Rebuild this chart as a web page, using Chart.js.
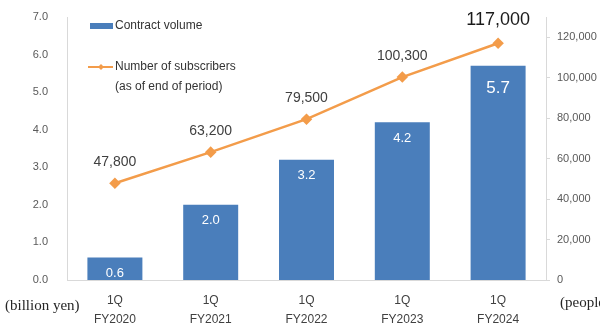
<!DOCTYPE html>
<html>
<head>
<meta charset="utf-8">
<script src="https://cdn.jsdelivr.net/npm/chart.js@4"></script>
<style>
  html, body { margin: 0; padding: 0; background: #fff; }
  #wrap { width: 600px; height: 326px; position: relative; }
</style>
</head>
<body>
<div id="wrap"><canvas id="chart"></canvas></div>
<script>
// data
const periods = [['1Q', 'FY2020'], ['1Q', 'FY2021'], ['1Q', 'FY2022'], ['1Q', 'FY2023'], ['1Q', 'FY2024']];
const contractVolume = [0.6, 2.0, 3.2, 4.2, 5.7];
const subscribers = [47800, 63200, 79500, 100300, 117000];
const leftTicks = [0, 1, 2, 3, 4, 5, 6, 7];
const rightTicks = [0, 20000, 40000, 60000, 80000, 100000, 120000];

const BLUE = '#4a7ebb';
const ORANGE = '#f39c4a';
const FONT = '"Liberation Sans", Arial, sans-serif';

// value labels, legend and unit captions
const decorPlugin = {
  id: 'decor',
  afterDatasetsDraw(chart) {
    const ctx = chart.ctx;
    ctx.save();
    ctx.textAlign = 'center';
    ctx.textBaseline = 'middle';

    // bar labels
    const barMeta = chart.getDatasetMeta(0);
    barMeta.data.forEach((bar, i) => {
      const last = i === contractVolume.length - 1;
      ctx.fillStyle = '#ffffff';
      ctx.font = (last ? '17px ' : '13px ') + FONT;
      ctx.fillText(contractVolume[i].toFixed(1), bar.x, bar.y + (last ? 22 : 16));
    });

    // line labels
    const lineMeta = chart.getDatasetMeta(1);
    lineMeta.data.forEach((pt, i) => {
      const last = i === subscribers.length - 1;
      ctx.fillStyle = last ? '#1a1a1a' : '#404040';
      ctx.font = (last ? '18px ' : '14px ') + FONT;
      ctx.fillText(subscribers[i].toLocaleString('en-US'), pt.x, pt.y - (last ? 23 : 21));
    });

    // legend
    ctx.textAlign = 'left';
    ctx.font = '12px ' + FONT;
    ctx.fillStyle = BLUE;
    ctx.fillRect(90, 23, 23, 6);
    ctx.fillStyle = '#333';
    ctx.fillText('Contract volume', 115, 26);

    ctx.strokeStyle = ORANGE;
    ctx.lineWidth = 2;
    ctx.beginPath();
    ctx.moveTo(88, 67);
    ctx.lineTo(113, 67);
    ctx.stroke();
    ctx.fillStyle = ORANGE;
    ctx.beginPath();
    ctx.moveTo(101, 64);
    ctx.lineTo(104, 67);
    ctx.lineTo(101, 70);
    ctx.lineTo(98, 67);
    ctx.closePath();
    ctx.fill();
    ctx.fillStyle = '#333';
    ctx.fillText('Number of subscribers', 115, 67);
    ctx.fillText('(as of end of period)', 115, 87);

    // unit captions
    ctx.font = '15px "Liberation Serif", "Times New Roman", serif';
    ctx.fillStyle = '#262626';
    ctx.fillText('(billion yen)', 5, 306);
    ctx.fillText('(people)', 560, 303);
    ctx.restore();
  }
};

new Chart(document.getElementById('chart'), {
  data: {
    labels: periods,
    datasets: [
      {
        type: 'bar',
        label: 'Contract volume',
        data: contractVolume,
        backgroundColor: BLUE,
        yAxisID: 'y',
        categoryPercentage: 1,
        barPercentage: 0.574,
        order: 2
      },
      {
        type: 'line',
        label: 'Number of subscribers',
        data: subscribers,
        borderColor: ORANGE,
        backgroundColor: ORANGE,
        borderWidth: 2.5,
        pointStyle: 'rectRot',
        pointRadius: 4,
        yAxisID: 'y1',
        order: 1
      }
    ]
  },
  options: {
    responsive: true,
    maintainAspectRatio: false,
    animation: false,
    layout: { padding: { top: 17, left: 0, right: 0, bottom: 0 } },
    plugins: { legend: { display: false }, tooltip: { enabled: false } },
    scales: {
      x: {
        offset: true,
        grid: { display: false, drawTicks: false },
        border: { display: true, color: '#d9d9d9' },
        ticks: { padding: 11, color: '#404040', font: { family: FONT, size: 12, lineHeight: 1.6 } },
        afterFit(scale) { scale.height = 46; }
      },
      y: {
        position: 'left',
        min: 0,
        max: 7,
        grid: { display: false, drawTicks: false },
        border: { display: true, color: '#d9d9d9' },
        afterBuildTicks(scale) { scale.ticks = leftTicks.map(v => ({ value: v })); },
        ticks: {
          padding: 19,
          color: '#595959',
          font: { family: FONT, size: 11 },
          callback: v => Number(v).toFixed(1)
        },
        // tick padding would otherwise push the plot area down
        afterFit(scale) { scale.width = 67; scale.paddingTop = 0; scale.paddingBottom = 0; }
      },
      y1: {
        position: 'right',
        min: 0,
        max: 130000,
        grid: { drawOnChartArea: false, drawTicks: true, tickLength: 4, color: '#d9d9d9' },
        border: { display: true, color: '#d9d9d9' },
        afterBuildTicks(scale) { scale.ticks = rightTicks.map(v => ({ value: v })); },
        ticks: {
          padding: 7,
          color: '#595959',
          font: { family: FONT, size: 11 },
          callback: v => Number(v).toLocaleString('en-US')
        },
        afterFit(scale) { scale.width = 54; scale.paddingTop = 0; scale.paddingBottom = 0; }
      }
    }
  },
  plugins: [decorPlugin]
});
</script>
</body>
</html>
